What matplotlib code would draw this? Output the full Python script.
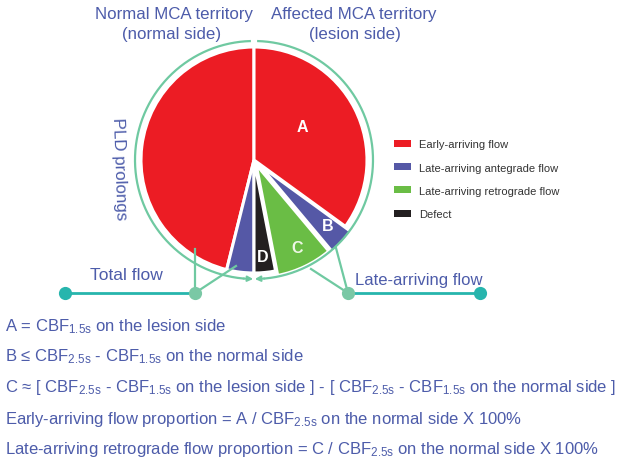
import numpy as np
import matplotlib
matplotlib.use("Agg")
import matplotlib.pyplot as plt
from matplotlib.patches import Patch

plt.rcParams['font.family'] = ['Liberation Sans', 'DejaVu Sans']
plt.rcParams['mathtext.fontset'] = 'custom'
plt.rcParams['mathtext.rm'] = 'Liberation Sans'
plt.rcParams['mathtext.it'] = 'Liberation Sans:italic'

# ---- data ----
slice_names = ["Early (normal)", "Late antegrade (normal)", "Defect", "Late retrograde", "Late antegrade", "Early (lesion)"]
slice_deg = [166, 14, 11, 29, 14, 126]
slice_labels = ["", "", "D", "C", "B", "A"]
slice_cat = ["early", "ante", "defect", "retro", "ante", "early"]
legend_cats = ["early", "ante", "retro", "defect"]
legend_labels = ["Early-arriving flow", "Late-arriving antegrade flow",
                 "Late-arriving retrograde flow", "Defect"]
formulas = [
    r"A = CBF$_{\mathrm{1.5s}}$ on the lesion side",
    r"B ≤ CBF$_{\mathrm{2.5s}}$ - CBF$_{\mathrm{1.5s}}$ on the normal side",
    r"C ≈ [ CBF$_{\mathrm{2.5s}}$ - CBF$_{\mathrm{1.5s}}$ on the lesion side ] - [ CBF$_{\mathrm{2.5s}}$ - CBF$_{\mathrm{1.5s}}$ on the normal side ]",
    r"Early-arriving flow proportion = A / CBF$_{\mathrm{2.5s}}$ on the normal side X 100%",
    r"Late-arriving retrograde flow proportion = C / CBF$_{\mathrm{2.5s}}$ on the normal side X 100%",
]

colors = {"early": "#ec1c24", "ante": "#5558a6", "retro": "#6abd45", "defect": "#231f20"}
TXT = "#4d5caa"
RING = "#6fc9a1"
TEAL = "#27b5ad"
DOT = "#7ac8a5"

W, H = 629, 464
fig = plt.figure(figsize=(W / 100, H / 100), dpi=100)
ax = fig.add_axes([0, 0, 1, 1])

def Y(y):
    return H - y

cx, cy, R = 254, 161, 113
explode = [0, 0, 0, 5, 8, 0]
wedges, _ = ax.pie(slice_deg, colors=[colors[c] for c in slice_cat], startangle=90,
                   counterclock=True, radius=R, center=(cx, Y(cy)), explode=explode,
                   wedgeprops=dict(edgecolor="white", linewidth=2.2), frame=True)

# slice letters
label_pos = {"A": (302, 127), "B": (328, 227), "C": (297, 249), "D": (263, 258)}
label_col = {"A": "white", "B": "white", "C": "#eef7e6", "D": "white"}
for lab in slice_labels:
    if lab:
        x, y = label_pos[lab]
        ax.text(x, Y(y), lab, color=label_col[lab], fontsize=11.5, fontweight="bold",
                ha="center", va="center")

# ring arcs
Rr = 119
def pt(a):
    return (cx + Rr * np.cos(np.radians(a)), Y(cy) + Rr * np.sin(np.radians(a)))
def arc(t1, t2):
    t = np.radians(np.linspace(t1, t2, 200))
    return cx + Rr * np.cos(t), Y(cy) + Rr * np.sin(t)
xs, ys = arc(91.5, 265.5)
ax.plot(xs, ys, color=RING, lw=1.6, solid_capstyle="butt")
xs, ys = arc(88.5, -85.5)
ax.plot(xs, ys, color=RING, lw=1.6, solid_capstyle="butt")
for a0, a1 in [(265, 269.6), (-85, -89.6)]:
    ax.annotate("", xy=pt(a1), xytext=pt(a0),
                arrowprops=dict(arrowstyle="-|>", color=RING, lw=1.4,
                                mutation_scale=8, shrinkA=0, shrinkB=0))

# connector lines
ax.plot([195, 195], [Y(294), Y(250)], color=RING, lw=1.6)
ax.plot([195, 236], [Y(294), Y(267)], color=RING, lw=1.6)
ax.plot([348, 336], [Y(294), Y(249)], color=RING, lw=1.6)
ax.plot([348, 311], [Y(294), Y(270)], color=RING, lw=1.6)
ax.plot([65, 195], [Y(294), Y(294)], color=TEAL, lw=2)
ax.plot([348, 480], [Y(294), Y(294)], color=TEAL, lw=2)
ax.plot([65, 480], [Y(294), Y(294)], ls="none", marker="o", ms=9.5, color=TEAL, mec="none")
ax.plot([195, 348], [Y(294), Y(294)], ls="none", marker="o", ms=9.5, color=DOT, mec="none")

# texts
ax.text(174, Y(14), "Normal MCA territory", color=TXT, fontsize=12.2, ha="center", va="center")
ax.text(172, Y(34), "(normal side)", color=TXT, fontsize=12.2, ha="center", va="center")
ax.text(354, Y(14), "Affected MCA territory", color=TXT, fontsize=12.2, ha="center", va="center")
ax.text(355, Y(34), "(lesion side)", color=TXT, fontsize=12.2, ha="center", va="center")
ax.text(119, Y(169), "PLD prolongs", color=TXT, fontsize=12.2, ha="center", va="center",
        rotation=-88)
ax.text(126, Y(276), "Total flow", color=TXT, fontsize=12.5, ha="center", va="center")
ax.text(419, Y(280), "Late-arriving flow", color=TXT, fontsize=12, ha="center", va="center")

baselines = [331, 361, 392, 424, 454]
for s, yb in zip(formulas, baselines):
    ax.text(5, Y(yb), s, color=TXT, fontsize=12, ha="left", va="baseline")

handles = [Patch(facecolor=colors[c], edgecolor="none") for c in legend_cats]
leg = ax.legend(handles, legend_labels, loc="upper left", bbox_to_anchor=(391 / W, 1 - 137 / H),
                frameon=False, fontsize=8, handlelength=1.5, handleheight=0.6,
                handletextpad=0.7, labelspacing=1.19, borderaxespad=0, borderpad=0.3)
for t in leg.get_texts():
    t.set_color("#333333")

ax.set_xlim(0, W)
ax.set_ylim(0, H)
ax.set_aspect("equal")
ax.axis("off")
fig.savefig("out.png", dpi=100)
